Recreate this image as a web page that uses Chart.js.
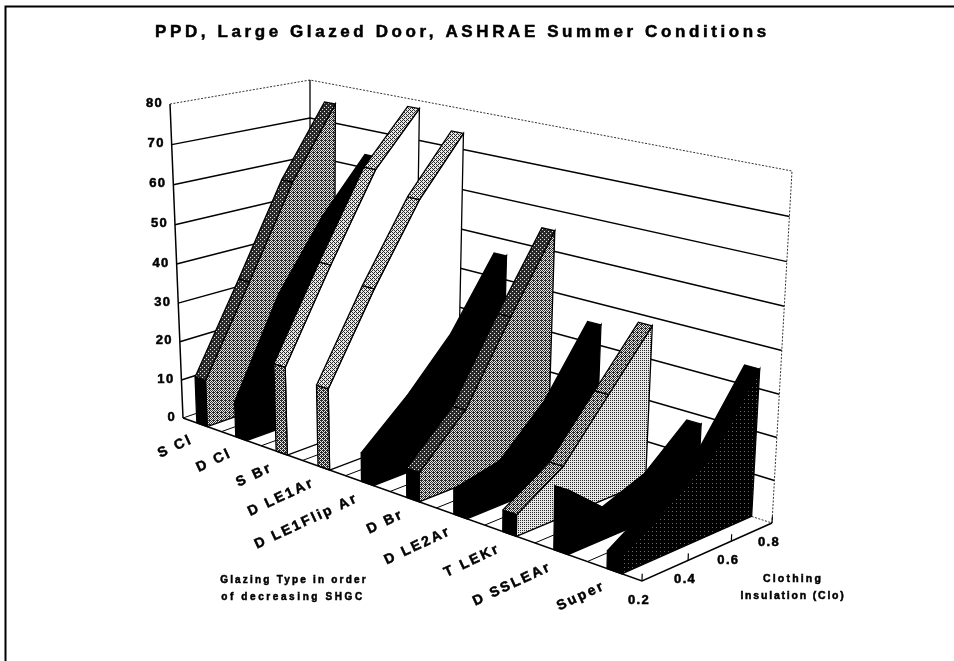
<!DOCTYPE html>
<html><head><meta charset="utf-8">
<style>html,body{margin:0;padding:0;background:#fff}canvas{display:block}</style>
<script src="https://cdn.jsdelivr.net/npm/chart.js@4/dist/chart.umd.min.js"></script>
</head><body>
<canvas id="c" width="954" height="661"></canvas>
<script>
const categories = ['S Cl','D Cl','S Br','D LE1Ar','D LE1Flip Ar','D Br','D LE2Ar','T LEKr','D SSLEAr','Super'];
const cloTicks = [0.2,0.4,0.6,0.8];
const ppdTicks = [0,10,20,30,40,50,60,70,80];
const sCl      = [12,34,57,75];
const dCl      = [9,33,50,63.5];
const sBr      = [22,44,65,78];
const dLe1Ar   = [20,41,60,74];
const dLe1Flip = [7,17,29,46];
const dBr      = [7,18,37,55];
const dLe2Ar   = [6,8.5,19,35];
const tLeKr    = [5,12,25,38];
const dSsleAr  = [14.5,5,9,18];
const superG   = [4,11,19,34.5];
const seriesValues = [sCl,dCl,sBr,dLe1Ar,dLe1Flip,dBr,dLe2Ar,tLeKr,dSsleAr,superG];

// 3-D view: eight projected corners of the plot box
const BOX = {L0:[183,418],F0:[642,581],R0:[772,523],B0:[310,374],L1:[170,104],F1:[652,205],R1:[792,171],B1:[310,80]};
const warp = (t,k)=> t/(t+(1-t)*k);
function project(cat,clo,ppd){
  const u = warp(cat/categories.length,1.217), v = warp((clo-0.2)/0.6,0.91), w = warp(ppd/80,1.04);
  const mix=(a,b,t)=>[a[0]+(b[0]-a[0])*t,a[1]+(b[1]-a[1])*t];
  const f0=mix(mix(BOX.L0,BOX.F0,u),mix(BOX.B0,BOX.R0,u),v);
  const f1=mix(mix(BOX.L1,BOX.F1,u),mix(BOX.B1,BOX.R1,u),v);
  const p=mix(f0,f1,w);
  return {x:p[0],y:p[1]};
}

function dither(light,dark,level){
  const b=[[0,8,2,10],[12,4,14,6],[3,11,1,9],[15,7,13,5]];
  const cv=document.createElement('canvas');cv.width=cv.height=4;
  const g=cv.getContext('2d');
  for(let y=0;y<4;y++)for(let x=0;x<4;x++){g.fillStyle=(b[y][x]+0.5)/16<level?dark:light;g.fillRect(x,y,1,1);}
  return g.createPattern(cv,'repeat');
}
const gray=l=>dither('#e8e8e8','#2a2a2a',l);
const styles=[
 {side:gray(.56),top:gray(.85),front:'#000'},
 {side:'#000',top:'#000',front:'#000'},
 {side:'#fff',top:gray(.36),front:gray(.65)},
 {side:'#fff',top:gray(.36),front:gray(.65)},
 {side:'#000',top:'#000',front:'#000'},
 {side:gray(.56),top:gray(.85),front:'#000'},
 {side:'#000',top:'#000',front:'#000'},
 {side:gray(.25),top:gray(.56),front:'#000'},
 {side:'#000',top:'#000',front:'#000'},
 {side:dither('#666','#000',.93),top:'#000',front:'#000'}
];

const HALF=0.135;
const sets=[];
function poly(pts,bg,bw,col,dash){
  const o={data:pts,showLine:true,pointRadius:0,tension:0,borderWidth:bw===undefined?1.3:bw,borderColor:col||'#000',borderDash:dash||[10000,1],borderJoinStyle:'miter',clip:false};
  if(bg){o.backgroundColor=bg;o.fill='shape';pts.push(pts[0]);}else{o.fill=false;}
  sets.push(o);
}
// walls and floor
ppdTicks.forEach(p=>{ if(p===0||p===80) return;
  poly([project(0,0.2,p),project(0,0.8,p),project(10,0.8,p)],null,1.5);
});
poly([project(0,0.2,80),project(0,0.8,80),project(10,0.8,80),project(10,0.8,0),project(0,0.8,0)],null,1,'#333',[2,1.5]);
poly([project(0,0.8,0),project(0,0.8,80)],null,1.3);
poly([project(0,0.2,0),project(0,0.2,80)],null,1.5);
poly([project(0,0.2,0),project(0,0.8,0)],null,1);
categories.forEach((c,i)=>{ if(i>0) poly([project(i,0.2,0),project(i,0.8,0)],null,1); });
// ribbons, back to front
seriesValues.forEach((vals,i)=>{
  const a=i+0.5-HALF*1, b=i+0.5+HALF, st=styles[i];
  const side=[project(b,cloTicks[0],0)];
  cloTicks.forEach((c,k)=>side.push(project(b,c,vals[k])));
  side.push(project(b,cloTicks[3],0));
  poly(side,st.side);
  for(let k=0;k<3;k++){
    poly([project(a,cloTicks[k],vals[k]),project(a,cloTicks[k+1],vals[k+1]),project(b,cloTicks[k+1],vals[k+1]),project(b,cloTicks[k],vals[k])],st.top);
  }
  poly([project(a,cloTicks[0],0),project(a,cloTicks[0],vals[0]),project(b,cloTicks[0],vals[0]),project(b,cloTicks[0],0)],st.front);
});
// front edges and clo ticks
poly([project(0,0.2,0),project(10,0.2,0),project(10,0.8,0)],null,1.6);
cloTicks.forEach(c=>poly([project(10,c,0),project(10,c,1.6)],null,1.2));
// outer frame
poly([{x:5.5,y:661},{x:5.5,y:6.5},{x:954,y:6.5}],null,2);
sets.forEach((s,i)=>s.order=sets.length-i);

const FONT='"Liberation Sans",Arial,sans-serif';
const textPlugin={id:'labels',afterDraw(chart){
  const {ctx,scales:{x,y}}=chart;
  const px=p=>({x:x.getPixelForValue(p.x),y:y.getPixelForValue(p.y)});
  const put=(t,X,Y,font,sp,al,rot)=>{ctx.save();ctx.translate(X,Y);if(rot)ctx.rotate(rot);ctx.font=font;ctx.letterSpacing=sp+'px';ctx.textAlign=al;ctx.textBaseline='middle';ctx.fillStyle='#000';ctx.strokeStyle='#000';ctx.lineWidth=0.5;ctx.fillText(t,0,0);ctx.strokeText(t,0,0);ctx.restore();};
  put('PPD, Large Glazed Door, ASHRAE Summer Conditions',155,32,'bold 17px '+FONT,3.6,'left');
  ppdTicks.forEach(p=>{const q=px(project(0,0.2,p));put(String(p),q.x-7,q.y-1,'bold 13px '+FONT,1.3,'right');});
  categories.forEach((c,i)=>{const q=px(project(i+0.5,0.2,0));put(c,q.x-10,q.y+14,'bold 14px '+FONT,2.4,'right',-25*Math.PI/180);});
  cloTicks.forEach(c=>{const q=px(project(10,c,0));put(c.toFixed(1),q.x-3,q.y+19,'bold 13px '+FONT,1.3,'center');});
  put('Glazing Type in order',294,580,'bold 10px '+FONT,2.2,'center');
  put('of decreasing SHGC',293,597,'bold 10px '+FONT,2.6,'center');
  put('Clothing',793,579,'bold 10.5px '+FONT,2.2,'center');
  put('Insulation (Clo)',793,596,'bold 10.5px '+FONT,1.8,'center');
}};

new Chart(document.getElementById('c'),{
  type:'scatter',
  data:{datasets:sets},
  options:{responsive:false,animation:false,events:[],
    layout:{padding:0},
    plugins:{legend:{display:false},tooltip:{enabled:false},title:{display:false}},
    scales:{x:{type:'linear',min:0,max:954,display:false},y:{type:'linear',min:0,max:661,reverse:true,display:false}}
  },
  plugins:[textPlugin]
});
</script>
</body></html>
